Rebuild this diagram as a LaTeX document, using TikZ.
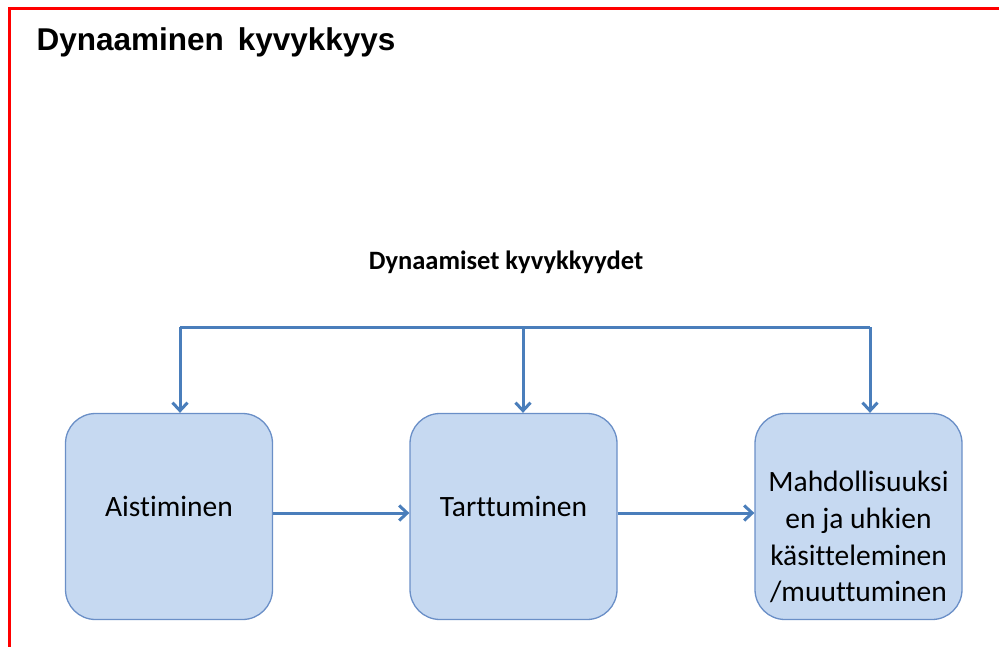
\documentclass[tikz,border=0pt]{standalone}
\usepackage{fontspec}
\setmainfont[Ligatures=NoCommon]{Carlito}
\newfontfamily\arialfont{Liberation Sans}
\usepackage{tikz}
\usetikzlibrary{arrows.meta}
\definecolor{boxfill}{HTML}{C6D9F1}
\definecolor{boxline}{HTML}{6A8FC7}
\definecolor{arrowblue}{HTML}{4A7EBB}
% teksti laatikon sisaan, ensimmainen rivi annetulle korkeudelle
\newcommand{\rivit}[2]{\raisebox{#1}[0pt][0pt]{\begin{tabular}[t]{@{}c@{}}#2\end{tabular}}}

\begin{document}
\begin{tikzpicture}[x=1pt, y=-1pt,
    kyky/.style={draw=boxline, fill=boxfill, line width=1.3pt, rounded corners=30pt,
      minimum width=207pt, minimum height=206pt, font=\fontsize{29.5}{36.7}\selectfont},
    nuoli/.style={draw=arrowblue, line width=3pt, -{Straight Barb[length=8pt,width=15pt,line width=3pt]}}]
        \useasboundingbox (0, 0) rectangle (999, 647);
        \draw[red, line width=3pt] (9, 647) -- (9, 9) -- (999, 9);
        \node[anchor=base west, font=\arialfont\bfseries\fontsize{31.5}{34}\selectfont] (otsikko) at (33, 51) {Dynaaminen\, kyvykkyys};
        \node[font=\bfseries\fontsize{26.5}{30}\selectfont] (ylaotsikko) at (506, 262) {Dynaamiset kyvykkyydet};
        \node[kyky] (aisti) at (169, 516.5) {\rivit{0pt}{Aistiminen}};
        \node[kyky] (tarttu) at (513.5, 516.5) {\rivit{0pt}{Tarttuminen}};
        \node[kyky] (mahdo) at (858.5, 516.5) {\rivit{24.8pt}{Mahdollisuuksi\\en ja uhkien\\käsitteleminen\\/muuttuminen}};
        \coordinate (vasen) at (180, 327);
        \coordinate (oikea) at (870, 327);
        \draw[arrowblue, line width=3pt] (vasen) -- (oikea);
        \foreach \x/\kohde in {180/aisti, 523/tarttu, 870/mahdo}
        \draw[nuoli] (\x, 327) -- (\kohde.north -| \x,0);
        \draw[nuoli] (aisti.east |- 0,513) -- (tarttu.west |- 0,513);
        \draw[nuoli] (tarttu.east |- 0,513) -- (mahdo.west |- 0,513);
      \end{tikzpicture}
\end{document}
